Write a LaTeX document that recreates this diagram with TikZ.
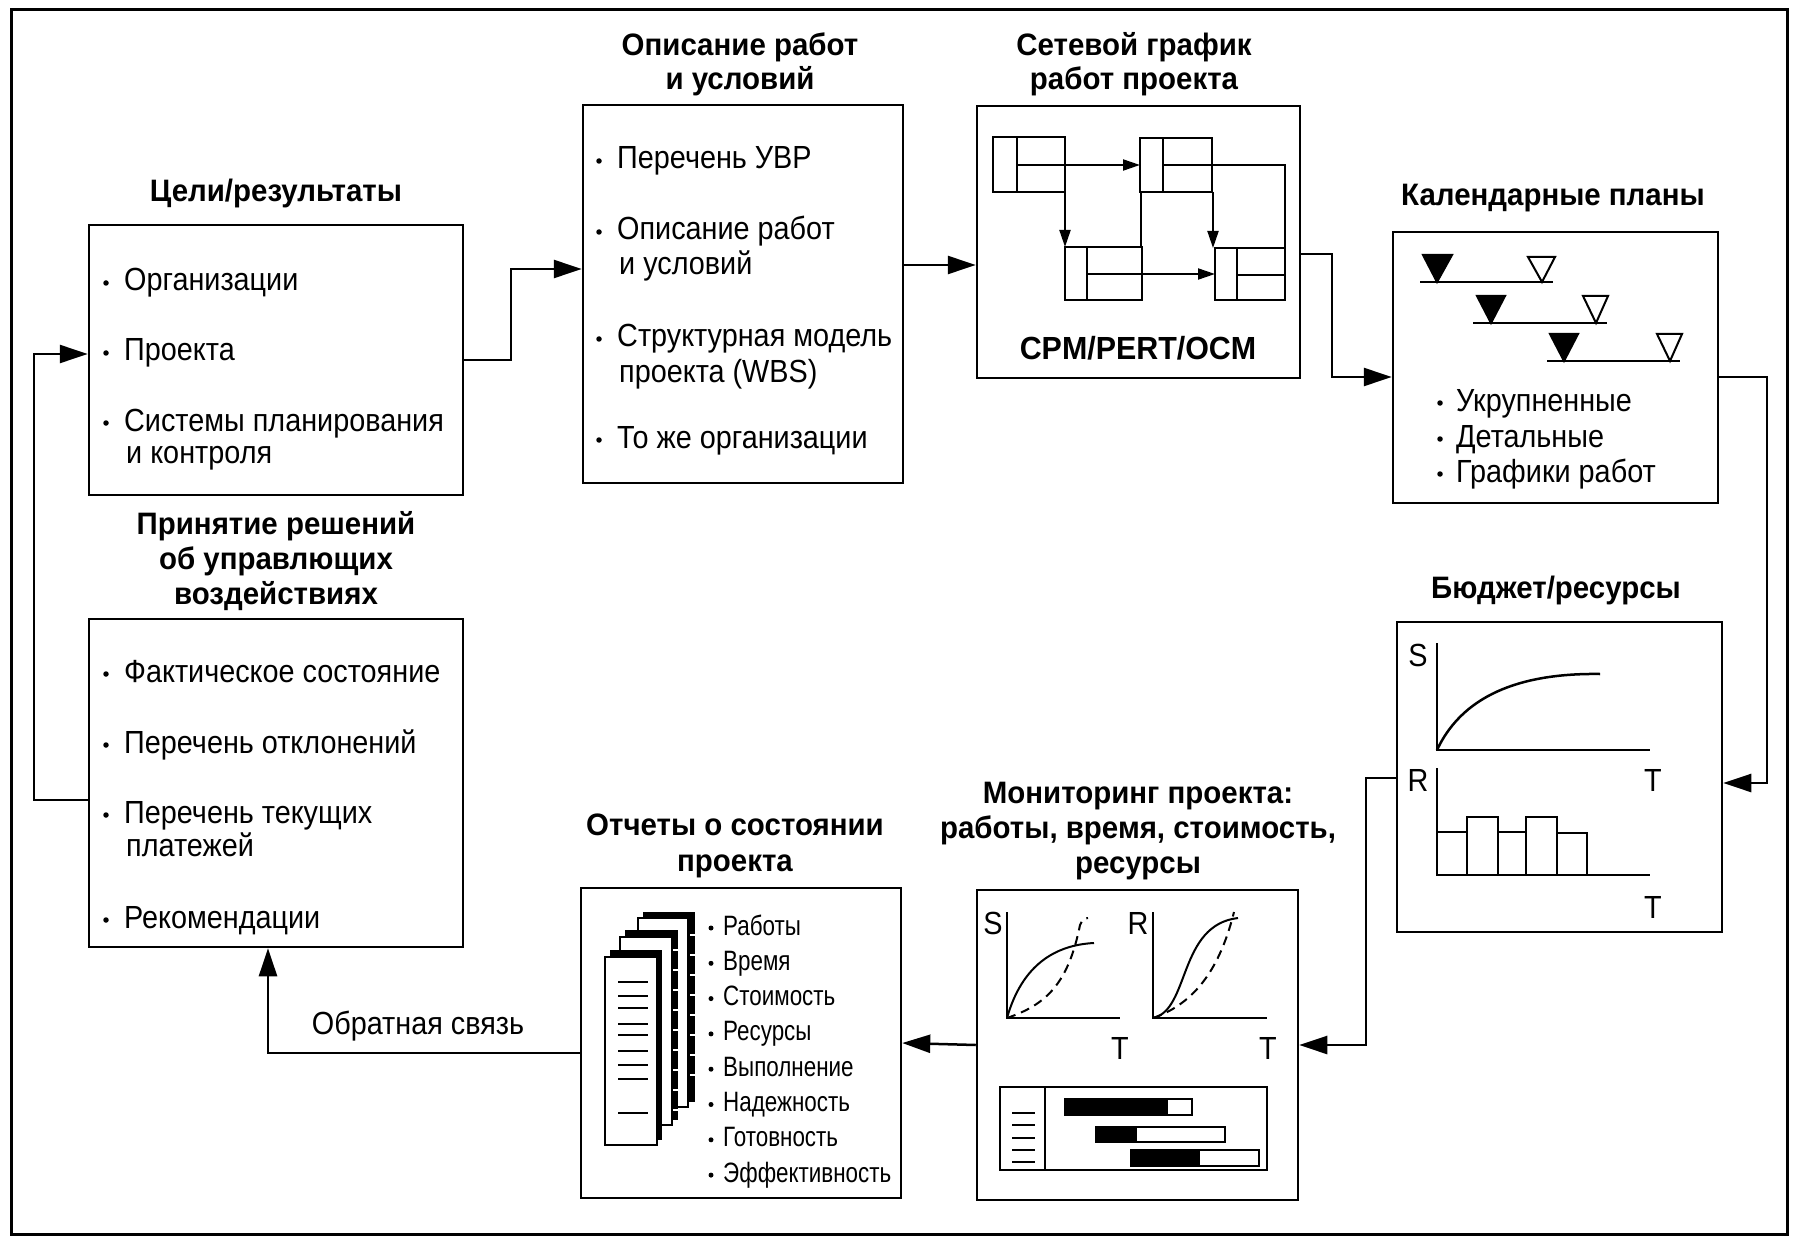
\documentclass[tikz,border=0pt]{standalone}
\usepackage{fontspec}
\setmainfont{Liberation Sans}[FakeStretch=0.9]
\newfontfamily\titlefam{Liberation Sans}[FakeStretch=0.95]
\newfontfamily\smallfam{Liberation Sans}[FakeStretch=0.8]
\usetikzlibrary{arrows.meta}
\newcommand\itmfont{\fontsize{32}{36}\selectfont}
\newcommand\ttlfont{\titlefam\bfseries\fontsize{31}{34}\selectfont}
\newcommand\smfont{\smallfam\fontsize{28}{32}\selectfont}
\tikzset{
  box/.style={draw, line width=2.5pt, rectangle, inner sep=0pt},
  ttl/.style={font=\ttlfont, align=center, inner sep=0pt},
  itm/.style={anchor=base west, inner sep=0pt, font=\itmfont},
  sitm/.style={anchor=base west, inner sep=0pt, font=\smfont},
  bulst/.style={circle, fill, inner sep=0pt, minimum size=5.5pt},
  conn/.style={line width=2.5pt, -{Triangle[length=28pt,width=18pt]}},
  thinconn/.style={line width=2pt, -{Triangle[length=17pt,width=11pt]}},
  lbl/.style={inner sep=0pt, font=\itmfont},
  pg/.style={draw, fill=white, line width=1.5pt},
}
\newcommand\itm[4]{\node[itm] (#1) at (#2,{#3+11}) {#4};}
\newcommand\bl[3]{\node[bulst] (#1) at (#2,{#3+3}) {};}
\begin{document}
\begin{tikzpicture}[x=1pt,y=-1pt]
\useasboundingbox (0,0) rectangle (1793,1238);
\draw[line width=3pt] (11,10) rectangle (1787,1234);

% ---------- boxes ----------
\node[box, minimum width=374pt, minimum height=270pt] (b1) at (276,360) {};
\node[box, minimum width=320pt, minimum height=378pt] (b2) at (743,294) {};
\node[box, minimum width=323pt, minimum height=272pt] (b3) at (1138.5,242) {};
\node[box, minimum width=325pt, minimum height=271pt] (b4) at (1555.5,367.5) {};
\node[box, minimum width=325pt, minimum height=310pt] (b5) at (1559.5,777) {};
\node[box, minimum width=321pt, minimum height=310pt] (b6) at (1137.5,1045) {};
\node[box, minimum width=320pt, minimum height=310pt] (b7) at (741,1043) {};
\node[box, minimum width=374pt, minimum height=328pt] (b8) at (276,783) {};

% ---------- titles ----------
\node[ttl] (t1) at (276,193) {Цели/результаты};
\node[ttl] (t2) at (740,64) {Описание работ\\и условий};
\node[ttl] (t3) at (1134,64) {Сетевой график\\работ проекта};
\node[ttl] (t4) at (1553,198) {Календарные планы};
\node[ttl] (t5) at (1556,590) {Бюджет/ресурсы};
\node[ttl, font=\titlefam\bfseries\fontsize{31}{35}\selectfont] (t6) at (1138,831) {Мониторинг проекта:\\работы, время, стоимость,\\ресурсы};
\node[ttl, font=\titlefam\bfseries\fontsize{31}{35.5}\selectfont] (t7) at (735,846) {Отчеты о состоянии\\проекта};
\node[ttl, font=\titlefam\bfseries\fontsize{31}{35}\selectfont] (t8) at (276,561) {Принятие решений\\об управлющих\\воздействиях};

% ---------- box 1 items ----------
\bl{b1a}{106}{280} \itm{b1t1}{124}{280}{Организации}
\bl{b1b}{106}{350} \itm{b1t2}{124}{350}{Проекта}
\bl{b1c}{106}{420} \itm{b1t3}{124}{420}{Системы планирования}
\itm{b1t4}{126}{452}{и контроля}

% ---------- box 2 items ----------
\bl{b2a}{599}{158} \itm{b2t1}{617}{158}{Перечень УВР}
\bl{b2b}{599}{229} \itm{b2t2}{617}{229}{Описание работ}
\itm{b2t3}{619}{264}{и условий}
\bl{b2c}{599}{336} \itm{b2t4}{617}{336}{Структурная модель}
\itm{b2t5}{619}{371}{проекта (WBS)}
\bl{b2d}{599}{437} \itm{b2t6}{617}{437}{То же организации}

% ---------- box 3: network ----------
\begin{scope}[line width=2pt]
\draw (993,137) rectangle (1065,192) (1017,137) -- (1017,192);
\draw (1140,138) rectangle (1212,192) (1163,138) -- (1163,192);
\draw (1065,247) rectangle (1142,300) (1087,247) -- (1087,300);
\draw (1215,248) rectangle (1285,300) (1237,248) -- (1237,300);
\end{scope}
\coordinate (nA) at (1017,165);
\coordinate (nB) at (1140,165);
\coordinate (nC) at (1065,247);
\coordinate (nD) at (1215,274);
\draw[thinconn] (nA) -- (nB);
\draw[thinconn] (1065,192) -- (nC);
\draw[line width=2pt] (1141,192) -- (1141,247);
\draw[line width=2pt] (1163,165) -- (1285,165) -- (1285,248);
\draw[thinconn] (1213,192) -- (1213,248);
\draw[thinconn] (1087,274) -- (nD);
\draw[line width=2pt] (1237,275) -- (1285,275);
\node[inner sep=0pt, font=\titlefam\bfseries\fontsize{32}{36}\selectfont] (cpm) at (1138,348) {CPM/PERT/OCM};

% ---------- box 4: milestones ----------
\begin{scope}[line width=2.5pt]
\draw (1420,282) -- (1553,282);
\draw (1473,323) -- (1607,323);
\draw (1547,361) -- (1680,361);
\end{scope}
\begin{scope}[line width=2pt]
\filldraw (1423,255) -- (1452,255) -- (1437,282) -- cycle;
\draw (1528,257) -- (1555,257) -- (1542,282) -- cycle;
\filldraw (1477,296) -- (1505,296) -- (1491,323) -- cycle;
\draw (1583,296) -- (1608,296) -- (1596,323) -- cycle;
\filldraw (1550,334) -- (1578,334) -- (1564,361) -- cycle;
\draw (1657,334) -- (1682,334) -- (1670,361) -- cycle;
\end{scope}
\bl{b4a}{1440}{400} \itm{b4t1}{1456}{400}{Укрупненные}
\bl{b4b}{1440}{436} \itm{b4t2}{1456}{436}{Детальные}
\bl{b4c}{1440}{471} \itm{b4t3}{1456}{471}{Графики работ}

% ---------- box 5: budget ----------
\node[lbl] (s5) at (1418,655) {S};
\node[lbl] (r5) at (1418,780) {R};
\node[lbl] (t5a) at (1653,780) {T};
\node[lbl] (t5b) at (1653,907) {T};
\draw[line width=2.5pt] (1437,643) -- (1437,750) -- (1650,750);
\draw[line width=2.5pt] (1437,750) .. controls (1465,690) and (1530,673) .. (1600,674);
\draw[line width=2.5pt] (1437,768) -- (1437,875) -- (1650,875);
\begin{scope}[line width=2pt]
\draw (1437,875) rectangle (1467,832);
\draw (1467,875) rectangle (1498,817);
\draw (1498,875) rectangle (1526,832);
\draw (1526,875) rectangle (1557,817);
\draw (1557,875) rectangle (1587,833);
\end{scope}

% ---------- box 6: monitoring ----------
\node[lbl] (s6) at (993,923) {S};
\node[lbl] (t6a) at (1120,1048) {T};
\node[lbl] (r6) at (1138,923) {R};
\node[lbl] (t6b) at (1268,1048) {T};
\draw[line width=2.5pt] (1007,912) -- (1007,1018) -- (1120,1018);
\draw[line width=2.5pt] (1153,912) -- (1153,1018) -- (1267,1018);
\draw[line width=2pt] (1007,1018) .. controls (1022,965) and (1055,945) .. (1094,943);
\draw[line width=2pt, dash pattern=on 9pt off 6pt] (1007,1018) .. controls (1045,1005) and (1068,985) .. (1080,925) .. controls (1082,920) and (1085,918) .. (1088,918);
\draw[line width=2pt] (1153,1018) .. controls (1190,1010) and (1178,925) .. (1238,918);
\draw[line width=2pt, dash pattern=on 9pt off 6pt] (1153,1018) .. controls (1200,1002) and (1222,960) .. (1234,912);
% gantt
\draw[line width=2pt] (1000,1087) rectangle (1267,1170) (1045,1087) -- (1045,1170);
\foreach \yy in {1113,1125,1138,1150,1162} \draw[line width=2pt] (1012,\yy) -- (1035,\yy);
\begin{scope}[line width=1.5pt]
\draw[fill=white] (1065,1099) rectangle (1192,1115);
\fill (1065,1099) rectangle (1168,1115);
\draw[fill=white] (1096,1127) rectangle (1225,1142);
\fill (1096,1127) rectangle (1137,1142);
\draw[fill=white] (1131,1150) rectangle (1259,1166);
\fill (1131,1150) rectangle (1200,1166);
\end{scope}

% ---------- box 7: reports ----------
\fill (643,912) rectangle (695,1102);
\draw[pg] (638,918) rectangle (688,1107);
\fill (625,930) rectangle (678,1120);
\draw[pg] (620,937) rectangle (672,1125);
\fill (610,950) rectangle (662,1140);
\draw[pg] (605,957) rectangle (657,1145);
\foreach \yy in {935,955,975,995,1015,1035,1055,1075} \draw[white, line width=1.5pt] (690,\yy) -- (695,\yy);
\foreach \yy in {950,970,990,1010,1030,1050,1070,1090,1110} \draw[white, line width=1.5pt] (673,\yy) -- (678,\yy);
\foreach \yy in {982,996,1008,1024,1035,1051,1065,1079,1113} \draw[line width=2pt] (618,\yy) -- (648,\yy);
\foreach \t [count=\i] in {Работы,Время,Стоимость,Ресурсы,Выполнение,Надежность,Готовность,Эффективность}{
  \pgfmathsetmacro\yc{925+35.3*(\i-1)}
  \node[bulst, minimum size=5pt] (b7b\i) at (711,{\yc+3}) {};
  \node[sitm] (b7t\i) at (723,{\yc+10}) {\t};
}

% ---------- box 8 items ----------
\bl{b8a}{106}{671} \itm{b8t1}{124}{671}{Фактическое состояние}
\bl{b8b}{106}{742} \itm{b8t2}{124}{742}{Перечень отклонений}
\bl{b8c}{106}{812} \itm{b8t3}{124}{812}{Перечень текущих}
\itm{b8t4}{126}{845}{платежей}
\bl{b8d}{106}{917} \itm{b8t5}{124}{917}{Рекомендации}

% ---------- connectors ----------
\draw[conn] (b1.east) -- (511,360) |- (b2.west |- 0,269);
\draw[conn] (b2.east |- 0,265) -- (b3.west |- 0,265);
\draw[conn] (b3.east |- 0,254) -- (1332,254) |- (b4.west |- 0,377);
\draw[conn] (b4.east |- 0,377) -- (1767,377) |- (b5.east |- 0,783);
\draw[conn] (b5.west |- 0,778) -- (1366,778) |- (b6.east);
\draw[conn] (b6.west) -- (b7.east);
\draw[conn] (b7.west |- 0,1053) -| (b8.south -| 268,0);
\draw[conn] (b8.west |- 0,800) -- (34,800) |- (b1.west |- 0,354);
\node[lbl] (fb) at (418,1026) {Обратная связь};
\end{tikzpicture}
\end{document}
